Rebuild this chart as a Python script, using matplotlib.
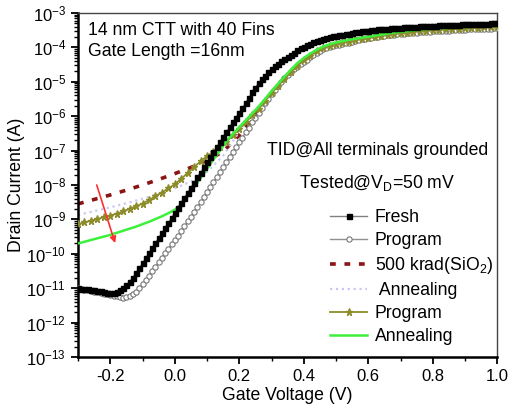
import numpy as np
import matplotlib
matplotlib.use("Agg")
import matplotlib.pyplot as plt
from matplotlib.ticker import LogLocator, MultipleLocator, FormatStrFormatter, NullFormatter

plt.rcParams['font.family'] = ['Liberation Sans', 'DejaVu Sans']
plt.rcParams['mathtext.fontset'] = 'custom'
plt.rcParams['mathtext.rm'] = 'Liberation Sans'
plt.rcParams['axes.unicode_minus'] = False

# gate voltage grids (V)
vg_fine = np.round(np.arange(-30, 101) / 100, 2)
vg_mid = np.round(np.arange(-15, 51) / 50, 2)
vg_coarse = np.round(np.arange(-6, 21) / 20, 2)

# log10 of drain current (A)
fresh_log = [
    -11.00, -11.01, -11.02, -11.03, -11.04, -11.05, -11.07, -11.09, -11.11, -11.13,
    -11.14, -11.13, -11.10, -11.06, -10.99, -10.91, -10.81, -10.69, -10.56, -10.42,
    -10.28, -10.13, -9.98, -9.84, -9.69, -9.54, -9.40, -9.25, -9.10, -8.96,
    -8.81, -8.66, -8.52, -8.37, -8.22, -8.08, -7.93, -7.78, -7.64, -7.49,
    -7.34, -7.20, -7.05, -6.90, -6.76, -6.61, -6.47, -6.32, -6.18, -6.04,
    -5.90, -5.76, -5.62, -5.46, -5.31, -5.17, -5.04, -4.93, -4.82, -4.72,
    -4.63, -4.55, -4.48, -4.41, -4.35, -4.28, -4.22, -4.15, -4.08, -4.03,
    -3.98, -3.94, -3.89, -3.85, -3.81, -3.78, -3.75, -3.72, -3.70, -3.68,
    -3.66, -3.65, -3.63, -3.61, -3.60, -3.58, -3.56, -3.55, -3.53, -3.52,
    -3.51, -3.50, -3.49, -3.48, -3.47, -3.47, -3.46, -3.45, -3.44, -3.44,
    -3.43, -3.42, -3.42, -3.41, -3.40, -3.40, -3.39, -3.39, -3.38, -3.38,
    -3.37, -3.37, -3.36, -3.36, -3.35, -3.35, -3.34, -3.34, -3.34, -3.33,
    -3.33, -3.33, -3.32, -3.32, -3.32, -3.31, -3.31, -3.31, -3.30, -3.30,
    -3.30,
]
program_log = [
    -11.00, -11.02, -11.04, -11.06, -11.08, -11.10, -11.12, -11.14, -11.16, -11.18,
    -11.20, -11.22, -11.24, -11.26, -11.28, -11.27, -11.24, -11.18, -11.10, -11.00,
    -10.89, -10.77, -10.64, -10.51, -10.38, -10.25, -10.12, -9.99, -9.86, -9.73,
    -9.60, -9.47, -9.34, -9.20, -9.06, -8.92, -8.78, -8.64, -8.50, -8.35,
    -8.21, -8.06, -7.92, -7.77, -7.63, -7.48, -7.34, -7.19, -7.05, -6.91,
    -6.76, -6.62, -6.47, -6.33, -6.18, -6.04, -5.90, -5.76, -5.62, -5.49,
    -5.36, -5.23, -5.11, -5.00, -4.89, -4.80, -4.71, -4.63, -4.56, -4.49,
    -4.43, -4.36, -4.29, -4.22, -4.16, -4.11, -4.06, -4.02, -3.99, -3.96,
    -3.94, -3.92, -3.90, -3.88, -3.86, -3.84, -3.81, -3.79, -3.77, -3.75,
    -3.73, -3.72, -3.70, -3.69, -3.67, -3.66, -3.65, -3.64, -3.63, -3.62,
    -3.61, -3.60, -3.59, -3.58, -3.58, -3.57, -3.56, -3.55, -3.55, -3.54,
    -3.53, -3.53, -3.52, -3.52, -3.51, -3.51, -3.50, -3.50, -3.49, -3.49,
    -3.49, -3.48, -3.48, -3.47, -3.47, -3.47, -3.46, -3.46, -3.46, -3.45,
    -3.45,
]
tid_program_log = [
    -9.14, -9.09, -9.04, -8.99, -8.94, -8.89, -8.83, -8.77, -8.69, -8.62,
    -8.54, -8.44, -8.33, -8.22, -8.10, -7.98, -7.82, -7.65, -7.48, -7.31,
    -7.16, -7.03, -6.90, -6.74, -6.56, -6.37, -6.18, -5.98, -5.78, -5.56,
    -5.34, -5.12, -4.92, -4.73, -4.54, -4.38, -4.24, -4.12, -4.03, -3.96,
    -3.91, -3.87, -3.83, -3.79, -3.76, -3.73, -3.70, -3.67, -3.64, -3.61,
    -3.59, -3.57, -3.55, -3.53, -3.51, -3.50, -3.49, -3.48, -3.47, -3.46,
    -3.45, -3.44, -3.43, -3.42, -3.42, -3.41,
]
tid_anneal_log = [
    -9.70, -9.65, -9.60, -9.55, -9.50, -9.45, -9.39, -9.33, -9.27, -9.21,
    -9.14, -9.07, -8.99, -8.91, -8.82, -8.72, -8.56, -8.32, -8.07, -7.80,
    -7.53, -7.26, -7.00, -6.73, -6.52, -6.32, -6.12, -5.92, -5.72, -5.50,
    -5.27, -5.06, -4.85, -4.65, -4.46, -4.31, -4.18, -4.07, -3.98, -3.91,
    -3.86, -3.82, -3.78, -3.75, -3.72, -3.69, -3.66, -3.63, -3.60, -3.57,
    -3.55, -3.53, -3.51, -3.49, -3.47, -3.46, -3.45, -3.44, -3.43, -3.42,
    -3.41, -3.40, -3.39, -3.38, -3.38, -3.37,
]
rad_500k_log = [
    -8.55, -8.42, -8.29, -8.15, -8.00, -7.84, -7.67, -7.49, -7.29, -7.03,
    -6.55, -5.95, -5.32, -4.80, -4.36, -4.05, -3.88, -3.78, -3.71, -3.64,
    -3.57, -3.52, -3.48, -3.45, -3.43, -3.41, -3.39,
]
rad_anneal_log = [
    -8.87, -8.76, -8.65, -8.53, -8.40, -8.26, -8.10, -7.90, -7.62, -7.15,
    -6.45, -5.85, -5.27, -4.80, -4.36, -4.05, -3.88, -3.78, -3.71, -3.64,
    -3.57, -3.52, -3.48, -3.45, -3.43, -3.41, -3.39,
]

fs = 12.7

fig = plt.figure(figsize=(5.10, 4.13), dpi=100)
ax = fig.add_axes([0.153, 0.1356, 0.822, 0.833])

ax.plot(vg_fine, 10.0 ** np.array(fresh_log), color='#808080', lw=1.0,
        marker='s', ms=3.6, mfc='black', mec='black', label='Fresh', zorder=5)
ax.plot(vg_fine, 10.0 ** np.array(program_log), color='#909090', lw=1.0,
        marker='o', ms=3.8, mfc='white', mec='#777777', mew=0.8, label='Program', zorder=3)
ax.plot(vg_coarse, 10.0 ** np.array(rad_500k_log), color='#8b1414', lw=2.6,
        ls=(0, (1.6, 2.4)), label='500 krad(SiO$_\\mathregular{2}$)', zorder=2)
ax.plot(vg_coarse, 10.0 ** np.array(rad_anneal_log), color='#c8c8f2', lw=1.6,
        ls=':', label=' Annealing', zorder=2)
ax.plot(vg_mid, 10.0 ** np.array(tid_program_log), color='#8c8c2a', lw=1.3,
        marker='*', ms=5.2, mfc='#8c8c2a', mec='#8c8c2a', label='Program', zorder=4)
ax.plot(vg_mid, 10.0 ** np.array(tid_anneal_log), color='#3cf03c', lw=1.8,
        label='Annealing', zorder=4)

# arrow marking the shift after annealing
ax.annotate('', xy=(-0.185, 10 ** -9.69), xytext=(-0.242, 10 ** -8.0),
            arrowprops=dict(arrowstyle='-|>', color='#ff3030', lw=1.2,
                            mutation_scale=9, shrinkA=0, shrinkB=0), zorder=6)

ax.set_yscale('log')
ax.set_xlim(-0.3, 1.0)
ax.set_ylim(1e-13, 1e-3)
ax.yaxis.set_major_locator(LogLocator(base=10, numticks=20))
ax.yaxis.set_minor_locator(LogLocator(base=10, subs=np.arange(2, 10), numticks=20))
ax.yaxis.set_minor_formatter(NullFormatter())
ax.xaxis.set_major_locator(MultipleLocator(0.2))
ax.xaxis.set_minor_locator(MultipleLocator(0.1))
ax.xaxis.set_major_formatter(FormatStrFormatter('%.1f'))

ax.tick_params(axis='both', which='major', direction='out', length=5, width=1.3,
               labelsize=12, top=False, right=False)
ax.tick_params(axis='both', which='minor', direction='out', length=3, width=1.0,
               top=False, right=False)
for side in ['left', 'bottom']:
    ax.spines[side].set_linewidth(1.8)
for side in ['top', 'right']:
    ax.spines[side].set_linewidth(1.0)
    ax.spines[side].set_color('#444444')

ax.set_xlabel('Gate Voltage (V)', fontsize=fs, labelpad=2)
ax.set_ylabel('Drain Current (A)', fontsize=fs, labelpad=1)

ax.text(0.024, 0.95, '14 nm CTT with 40 Fins', transform=ax.transAxes,
        fontsize=fs, va='center', ha='left')
ax.text(0.024, 0.887, 'Gate Length =16nm', transform=ax.transAxes,
        fontsize=fs, va='center', ha='left')
ax.text(0.714, 0.60, 'TID@All terminals grounded', transform=ax.transAxes,
        fontsize=fs, va='center', ha='center')
ax.text(0.714, 0.506, 'Tested@V$_\\mathregular{D}$=50 mV', transform=ax.transAxes,
        fontsize=fs, va='center', ha='center')

ax.legend(loc='upper left', bbox_to_anchor=(0.60, 0.43), frameon=False,
          fontsize=fs, numpoints=1, handlelength=2.15, handletextpad=0.4,
          labelspacing=0.34, borderpad=0, borderaxespad=0)

fig.savefig('out.png', dpi=100)
